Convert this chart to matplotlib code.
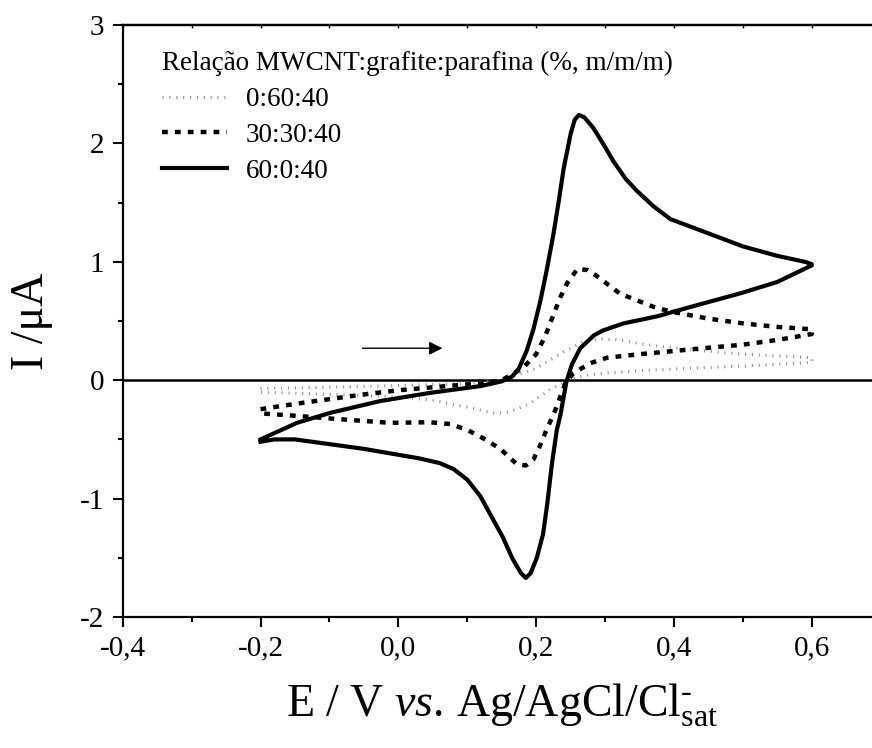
import matplotlib
matplotlib.use("Agg")
import matplotlib.pyplot as plt
from matplotlib.ticker import FuncFormatter, MultipleLocator, NullFormatter

plt.rcParams['font.family'] = ['Liberation Serif', 'DejaVu Serif']
plt.rcParams['mathtext.fontset'] = 'custom'
plt.rcParams['mathtext.rm'] = 'Liberation Serif'
plt.rcParams['mathtext.it'] = 'Liberation Serif:italic'
plt.rcParams['axes.unicode_minus'] = False

# 0:60:40
e_a = [-0.2, -0.1, 0.0, 0.1, 0.15, 0.2, 0.24, 0.27, 0.29, 0.32, 0.36, 0.42, 0.5, 0.6,
       0.6, 0.5, 0.42, 0.35, 0.3, 0.27, 0.25, 0.22, 0.19, 0.16, 0.14, 0.11, 0.05, 0.0, -0.1, -0.2]
i_a = [-0.07, -0.06, -0.045, -0.03, 0.0, 0.1, 0.24, 0.33, 0.35, 0.34, 0.3, 0.26, 0.22, 0.19,
       0.15, 0.12, 0.1, 0.08, 0.06, 0.04, 0.01, -0.08, -0.2, -0.27, -0.28, -0.24, -0.17, -0.14, -0.12, -0.1]

# 30:30:40
e_b = [-0.2, -0.15, -0.1, -0.05, 0.0, 0.05, 0.1, 0.119, 0.15, 0.18, 0.2, 0.213, 0.223, 0.235, 0.245,
       0.26, 0.275, 0.288, 0.322, 0.37, 0.395, 0.45, 0.5, 0.55, 0.6,
       0.6, 0.55, 0.5, 0.424, 0.351, 0.303, 0.279, 0.254, 0.242, 0.228, 0.215, 0.205, 0.196,
       0.185, 0.172, 0.148, 0.123, 0.1, 0.075, 0.046, -0.012, -0.084, -0.15, -0.2]
i_b = [-0.245, -0.2, -0.16, -0.12, -0.085, -0.06, -0.035, -0.03, 0.0, 0.1, 0.22, 0.37, 0.52, 0.7, 0.82,
       0.94, 0.93, 0.88, 0.73, 0.62, 0.58, 0.52, 0.48, 0.45, 0.43,
       0.39, 0.34, 0.3, 0.26, 0.22, 0.19, 0.145, 0.06, -0.03, -0.25, -0.42, -0.56, -0.67,
       -0.72, -0.71, -0.58, -0.49, -0.42, -0.37, -0.355, -0.36, -0.33, -0.3, -0.28]

# 60:0:40
e_c = [-0.2, -0.147, -0.099, -0.027, 0.046, 0.119, 0.15, 0.165, 0.175, 0.186, 0.196, 0.206,
       0.215, 0.225, 0.233, 0.24, 0.25, 0.256, 0.262, 0.27, 0.283, 0.3, 0.312, 0.33, 0.346,
       0.37, 0.395, 0.45, 0.5, 0.55, 0.59, 0.6,
       0.6, 0.55, 0.5, 0.45, 0.4, 0.376, 0.327, 0.297, 0.284, 0.264, 0.252, 0.244, 0.235,
       0.23, 0.223, 0.216, 0.21, 0.201, 0.192, 0.185, 0.178, 0.165, 0.152, 0.135, 0.119,
       0.1, 0.08, 0.06, 0.03, 0.0, -0.05, -0.1, -0.15, -0.18, -0.2]
i_c = [-0.5, -0.36, -0.276, -0.177, -0.107, -0.05, -0.01, 0.03, 0.1, 0.245, 0.43, 0.667,
       0.92, 1.23, 1.52, 1.79, 2.08, 2.2, 2.24, 2.22, 2.13, 1.97, 1.85, 1.7, 1.6,
       1.47, 1.36, 1.24, 1.13, 1.05, 1.0, 0.98,
       0.97, 0.83, 0.74, 0.66, 0.58, 0.54, 0.48, 0.42, 0.38, 0.27, 0.135, -0.01, -0.3,
       -0.42, -0.7, -1.05, -1.3, -1.5, -1.63, -1.67, -1.63, -1.5, -1.33, -1.15, -0.98,
       -0.84, -0.75, -0.7, -0.66, -0.63, -0.58, -0.54, -0.5, -0.5, -0.52]

labels = ['0:60:40', '30:30:40', '60:0:40']
legend_title = 'Relação MWCNT:grafite:parafina (%, m/m/m)'

W, H = 872, 748
fig = plt.figure(figsize=(W / 100, H / 100), dpi=100)
ax = fig.add_axes([122.7 / W, 1 - 617 / H, 758 / W, 592 / H])

ax.plot(e_a, i_a, color='#8f8f8f', lw=2.2, linestyle=(0, (0.35, 1.9)), label=labels[0])
ax.plot(e_b, i_b, color='black', lw=3.2, linestyle=(0, (1.3, 1.6)), label=labels[1])
ax.plot(e_c, i_c, color='black', lw=3.0, label=labels[2], solid_joinstyle='round')
ax.axhline(0, color='black', lw=1.8, zorder=0)

ax.annotate('', xy=(0.068, 0.27), xytext=(-0.056, 0.27),
            arrowprops=dict(arrowstyle='-|>', color='black', lw=1.0, mutation_scale=20))

ax.set_xlim(-0.4, 0.7)
ax.set_ylim(-2, 3)
ax.xaxis.set_major_locator(MultipleLocator(0.2))
ax.xaxis.set_minor_locator(MultipleLocator(0.1))
ax.yaxis.set_major_locator(MultipleLocator(1))
ax.yaxis.set_minor_locator(MultipleLocator(0.5))
ax.xaxis.set_major_formatter(FuncFormatter(lambda v, p: ('%.1f' % v).replace('.', ',').replace('-0,0', '0,0')))
ax.yaxis.set_major_formatter(FuncFormatter(lambda v, p: '%d' % round(v)))
ax.tick_params(which='both', direction='out', top=False, right=False, labelsize=21, width=1.5)
ax.tick_params(which='major', length=7.5, pad=6)
ax.tick_params(which='minor', length=3.8)
ax.spines['right'].set_visible(False)
for s in ['left', 'bottom', 'top']:
    ax.spines[s].set_linewidth(1.6)

sec = ax.secondary_xaxis('top')
sec.xaxis.set_major_locator(MultipleLocator(0.1))
sec.xaxis.set_major_formatter(NullFormatter())
sec.tick_params(direction='in', length=2.5, width=1.0)
sec.spines['top'].set_linewidth(1.6)

ax.set_xlabel(r'E / V $\mathit{vs.}\,$Ag/AgCl/Cl$^{\text{-}}_{\mathrm{sat}}$', fontsize=33, labelpad=14)
ax.set_ylabel('I /μA', fontsize=33, labelpad=19)

leg = ax.legend(title=legend_title, loc='upper left', bbox_to_anchor=(0.052, 0.956),
                frameon=False, fontsize=19.5, title_fontsize=19.5, handlelength=2.4,
                handletextpad=0.7, borderaxespad=0, borderpad=0, labelspacing=0.4)
leg._legend_box.align = 'left'

fig.savefig('out.png', dpi=100)
